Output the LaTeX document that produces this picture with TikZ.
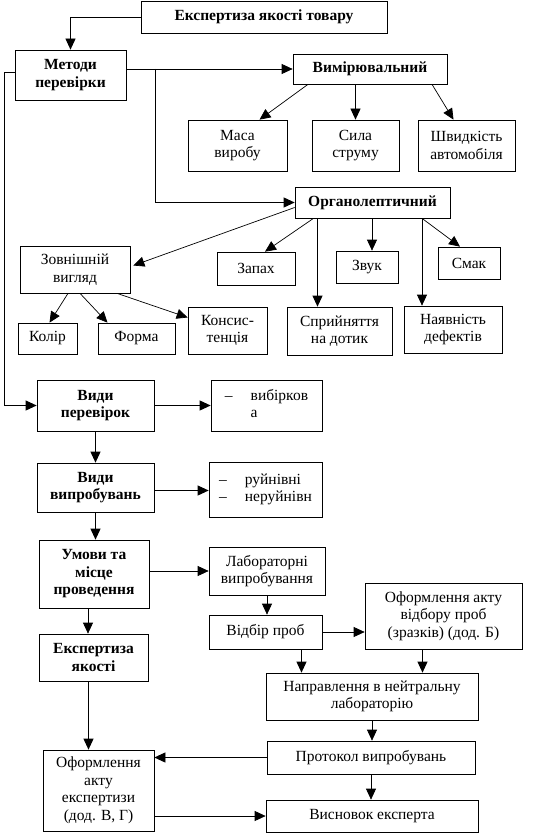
\documentclass[tikz,border=0pt]{standalone}
\usepackage{fontspec}
\setmainfont{Liberation Serif}
\usetikzlibrary{arrows.meta}

\begin{document}
\begin{tikzpicture}[x=1pt, y=-1pt, >={Triangle[length=11pt,width=10pt]}]
        % Style definitions
        \tikzset{
            block/.style={draw, fill=white, rectangle, align=center, inner sep=1pt, line width=0.7pt, font=\fontsize{15.5}{17.5}\selectfont},
            bblock/.style={block, font=\fontsize{15.5}{17.5}\selectfont\bfseries},
            line/.style={->, line width=0.7pt}
        }
        \useasboundingbox (0,0) rectangle (559,834);

        % Nodes
        \node [bblock, minimum width=246pt, minimum height=32pt] (top) at (264,17) {Експертиза якості товару};
        \node [bblock, minimum width=111pt, minimum height=50pt] (metody) at (70.5,75) {Методи\\перевірки};
        \node [bblock, minimum width=154pt, minimum height=30pt] (vymir) at (370,69) {Вимірювальний};
        \node [block, minimum width=99pt, minimum height=51pt] (masa) at (237.5,145.5) {Маса\\виробу};
        \node [block, minimum width=87pt, minimum height=51pt] (syla) at (355.5,145.5) {Сила\\струму};
        \node [block, minimum width=97pt, minimum height=51pt] (shvyd) at (466.5,145.5) {Швидкість\\автомобіля};
        \node [bblock, minimum width=155pt, minimum height=31pt] (organo) at (372.5,202.5) {Органолептичний};
        \node [block, minimum width=110pt, minimum height=47pt] (zovn) at (75,269.5) {Зовнішній\\вигляд};
        \node [block, minimum width=78pt, minimum height=33pt] (zapakh) at (256,268.5) {Запах};
        \node [block, minimum width=62pt, minimum height=32pt] (zvuk) at (367,267) {Звук};
        \node [block, minimum width=62pt, minimum height=32pt] (smak) at (469,263) {Смак};
        \node [block, minimum width=105pt, minimum height=48pt] (dotyk) at (339.5,331) {Сприйняття\\на дотик};
        \node [block, minimum width=98pt, minimum height=47pt] (defekt) at (453,329.5) {Наявність\\дефектів};
        \node [block, minimum width=59pt, minimum height=31pt] (kolir) at (47.5,338.5) {Колір};
        \node [block, minimum width=77pt, minimum height=31pt] (forma) at (136.5,338.5) {Форма};
        \node [block, minimum width=79pt, minimum height=47pt] (konsyst) at (227.5,330.5) {Консис-\\тенція};
        \node [bblock, minimum width=117pt, minimum height=51pt] (vydper) at (95.5,405.5) {Види\\перевірок};
        \node [block, minimum width=111pt, minimum height=51pt] (vybirk) at (266.5,405.5)
            {\begin{tabular}{@{}l@{\hspace{18pt}}l@{}}–&вибірков\\&а\end{tabular}};
        \node [bblock, minimum width=117pt, minimum height=49pt] (vydvyp) at (95.5,487.5) {Види\\випробувань};
        \node [block, minimum width=113pt, minimum height=55pt] (ruin) at (265.5,489.5)
            {\begin{tabular}{@{}l@{\hspace{18pt}}l@{}}–&руйнівні\\–&неруйнівн\end{tabular}};
        \node [bblock, minimum width=110pt, minimum height=68pt] (umovy) at (94,574) {Умови та\\місце\\проведення};
        \node [block, minimum width=116pt, minimum height=48pt] (labor) at (267,571) {Лабораторні\\випробування};
        \node [bblock, minimum width=109pt, minimum height=47pt] (eksp) at (93.5,657.5) {Експертиза\\якості};
        \node [block, minimum width=113pt, minimum height=34pt] (vidbir) at (265.5,632) {Відбір проб};
        \node [block, minimum width=157pt, minimum height=66pt] (aktvid) at (443.5,616) {Оформлення акту\\відбору проб\\(зразків) (дод. Б)};
        \node [block, minimum width=212pt, minimum height=47pt] (naprav) at (372,696.5) {Направлення в нейтральну\\лабораторію};
        \node [block, minimum width=111pt, minimum height=81pt] (akteksp) at (98.5,790.5) {Оформлення\\акту\\експертизи\\(дод. В, Г)};
        \node [block, minimum width=208pt, minimum height=33pt] (protokol) at (371,757.5) {Протокол випробувань};
        \node [block, minimum width=212pt, minimum height=32pt] (vysnovok) at (372,816) {Висновок експерта};

        % Connections
        \draw [line] (top.west) -| (metody.north);
        \draw [line] (metody.east |- vymir) -- (vymir.west);
        \coordinate (br) at (155,69);
        \draw [line] (br) |- (organo.west);
        \draw [line] ([yshift=3pt]metody.west) -- ++(-10,0) |- (vydper.west);

        \draw [line] ([xshift=-62pt]vymir.south) -- ([xshift=22pt]masa.north);
        \draw [line] (syla.north |- vymir.south) -- (syla.north);
        \draw [line] ([xshift=62pt]vymir.south) -- ([xshift=-13pt]shvyd.north);

        \draw [line] ([yshift=-5pt]organo.west) -- ([yshift=4pt, xshift=3pt]zovn.east);
        \draw [line] ([xshift=-59pt]organo.south) -- ([xshift=9pt]zapakh.north);
        \draw [line] ([xshift=5pt]zvuk.north |- organo.south) -- ([xshift=5pt]zvuk.north);
        \draw [line] ([xshift=-22pt]dotyk.north |- organo.south) -- ([xshift=-22pt]dotyk.north);
        \draw [line] ([xshift=-31pt]defekt.north |- organo.south) -- ([xshift=-31pt]defekt.north);
        \draw [line] ([xshift=-31pt]defekt.north |- organo.south) -- ([xshift=-9pt]smak.north);

        \draw [line] ([xshift=-7pt]zovn.south) -- ([xshift=2pt]kolir.north);
        \draw [line] ([xshift=5pt]zovn.south) -- ([xshift=-29pt]forma.north);
        \draw [line] ([xshift=42pt]zovn.south) -- ([yshift=13pt]konsyst.west);

        \draw [line] (vydper.east) -- (vybirk.west);
        \draw [line] (vydper.south) -- (vydvyp.north);
        \draw [line] ([yshift=-3pt]vydvyp.east) -- ([yshift=-3pt]vydvyp.east -| ruin.west);
        \draw [line] (vydvyp.south) -- (vydvyp.south |- umovy.north);
        \draw [line] (labor.west -| umovy.east) -- (labor.west);
        \draw [line] ([xshift=-6pt]umovy.south) -- ([xshift=-6pt]umovy.south |- eksp.north);
        \draw [line] ([xshift=-5pt]eksp.south) -- ([xshift=-5pt]eksp.south |- akteksp.north);

        \draw [line] (labor.south) -- (labor.south |- vidbir.north);
        \draw [line] (vidbir.east) -- (vidbir.east -| aktvid.west);
        \draw [line] ([xshift=36pt]vidbir.south) -- ([xshift=36pt]vidbir.south |- naprav.north);
        \draw [line] ([xshift=-21pt]aktvid.south) -- ([xshift=-21pt]aktvid.south |- naprav.north);
        \draw [line] (naprav.south) -- (naprav.south |- protokol.north);
        \draw [line] (protokol.west) -- (protokol.west -| akteksp.east);
        \draw [line] (protokol.south) -- (protokol.south |- vysnovok.north);
        \draw [line] (vysnovok.west -| akteksp.east) -- (vysnovok.west);
    \end{tikzpicture}
\end{document}
